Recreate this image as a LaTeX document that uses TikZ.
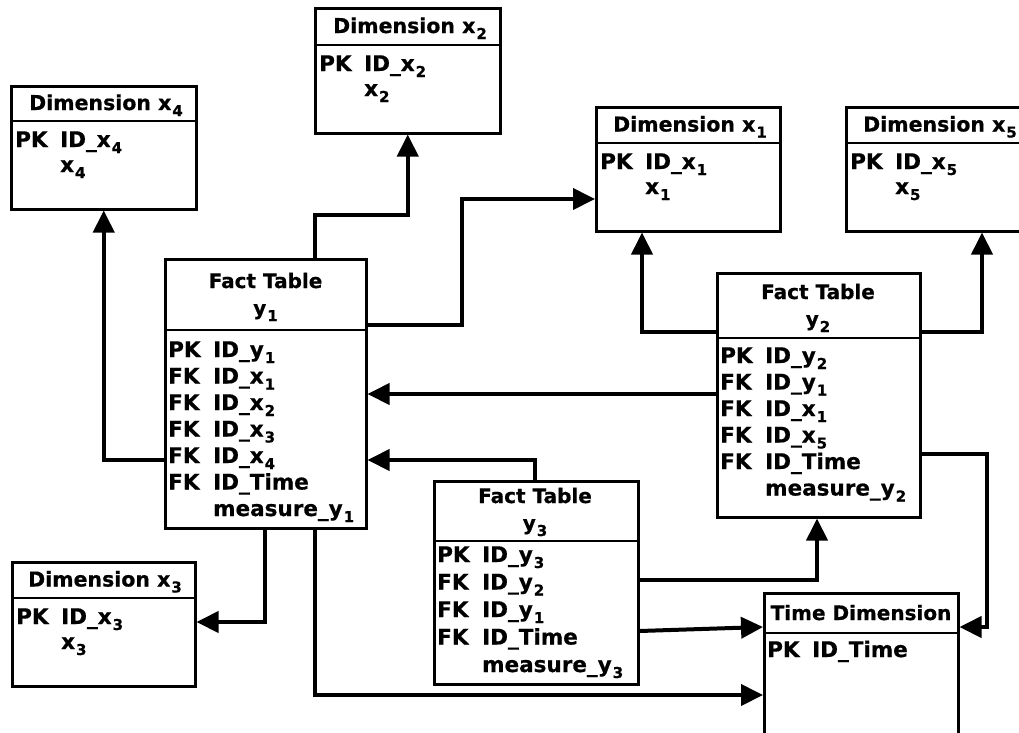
\documentclass[tikz,border=0pt]{standalone}
\usepackage{fontspec}
\setmainfont{DejaVu Sans}[BoldFeatures={FakeBold=0.6}]
\usetikzlibrary{arrows.meta}
\newcommand\sbs[1]{\kern1pt\raisebox{-6pt}{\fontsize{15}{15}\selectfont #1}}
\newcommand\rowsA[1]{\begin{tabular}[t]{@{}p{45pt}@{}l@{}}#1\end{tabular}}
\begin{document}
\begin{tikzpicture}[x=1pt,y=-1pt,
  box/.style={draw,line width=2.5pt,inner sep=0pt,anchor=north west},
  hline/.style={line width=1.1pt},
  conn/.style={line width=4pt,-{Triangle[length=22pt,width=21pt]}},
  dimhead/.style={inner sep=0pt,anchor=base,font=\bfseries\fontsize{20.5}{22}\selectfont},
  facthead/.style={inner sep=0pt,anchor=base,font=\bfseries\fontsize{20}{27}\selectfont},
  dimbody/.style={inner sep=0pt,anchor=base west,font=\bfseries\fontsize{21.5}{25}\selectfont},
  factbody/.style={inner sep=0pt,anchor=base west,font=\bfseries\fontsize{21.5}{26.5}\selectfont},
]
\clip (0,0) rectangle (1019,732);
\fill[white] (0,0) rectangle (1019,732);

% ---------- boxes ----------
\node[box,minimum width=185pt,minimum height=123pt] (d4) at (10,85) {};
\node[box,minimum width=185pt,minimum height=125pt] (d2) at (314,7) {};
\node[box,minimum width=184pt,minimum height=124pt] (d1) at (595,106) {};
\node[box,minimum width=184pt,minimum height=124pt] (d5) at (845,106) {};
\node[box,minimum width=183pt,minimum height=124pt] (d3) at (11,561) {};
\node[box,minimum width=201pt,minimum height=269pt] (y1) at (164,258) {};
\node[box,minimum width=203pt,minimum height=244pt] (y2) at (716,272) {};
\node[box,minimum width=204pt,minimum height=203pt] (y3) at (433,480) {};
\node[box,minimum width=194pt,minimum height=170pt] (t) at (763,592) {};

% ---------- header dividers ----------
\draw[hline] (d4.west |- 0,121) -- (d4.east |- 0,121);
\draw[hline] (d2.west |- 0,45) -- (d2.east |- 0,45);
\draw[hline] (d1.west |- 0,143) -- (d1.east |- 0,143);
\draw[hline] (d5.west |- 0,143) -- (d5.east |- 0,143);
\draw[hline] (d3.west |- 0,598) -- (d3.east |- 0,598);
\draw[hline] (y1.west |- 0,330) -- (y1.east |- 0,330);
\draw[hline] (y2.west |- 0,338) -- (y2.east |- 0,338);
\draw[hline] (y3.west |- 0,541) -- (y3.east |- 0,541);
\draw[hline] (t.west |- 0,633) -- (t.east |- 0,633);

% ---------- headers ----------
\node[dimhead] (d4h) at (106,110) {Dimension x\sbs{4}};
\node[dimhead] (d2h) at (410,33) {Dimension x\sbs{2}};
\node[dimhead] (d1h) at (690,131.5) {Dimension x\sbs{1}};
\node[dimhead] (d5h) at (940,131.5) {Dimension x\sbs{5}};
\node[dimhead] (d3h) at (105,586.5) {Dimension x\sbs{3}};
\node[facthead] (y1h) at (265.5,288) {\begin{tabular}[t]{@{}c@{}}Fact Table\\y\sbs{1}\end{tabular}};
\node[facthead] (y2h) at (818,299) {\begin{tabular}[t]{@{}c@{}}Fact Table\\y\sbs{2}\end{tabular}};
\node[facthead] (y3h) at (535,503) {\begin{tabular}[t]{@{}c@{}}Fact Table\\y\sbs{3}\end{tabular}};
\node[facthead] (th) at (861,620) {Time Dimension};

% ---------- bodies ----------
\node[dimbody] (d4b) at (15,147) {\rowsA{PK & ID\_x\sbs{4}\\ & x\sbs{4}}};
\node[dimbody] (d2b) at (319,71) {\rowsA{PK & ID\_x\sbs{2}\\ & x\sbs{2}}};
\node[dimbody] (d1b) at (600,169) {\rowsA{PK & ID\_x\sbs{1}\\ & x\sbs{1}}};
\node[dimbody] (d5b) at (850,169) {\rowsA{PK & ID\_x\sbs{5}\\ & x\sbs{5}}};
\node[dimbody] (d3b) at (16,624) {\rowsA{PK & ID\_x\sbs{3}\\ & x\sbs{3}}};
\node[factbody] (y1b) at (168,357) {\rowsA{PK & ID\_y\sbs{1}\\ FK & ID\_x\sbs{1}\\ FK & ID\_x\sbs{2}\\ FK & ID\_x\sbs{3}\\ FK & ID\_x\sbs{4}\\ FK & ID\_Time\\ & measure\_y\sbs{1}}};
\node[factbody] (y2b) at (720,363) {\rowsA{PK & ID\_y\sbs{2}\\ FK & ID\_y\sbs{1}\\ FK & ID\_x\sbs{1}\\ FK & ID\_x\sbs{5}\\ FK & ID\_Time\\ & measure\_y\sbs{2}}};
\node[factbody,font=\bfseries\fontsize{21.5}{27.5}\selectfont] (y3b) at (437,562) {\rowsA{PK & ID\_y\sbs{3}\\ FK & ID\_y\sbs{2}\\ FK & ID\_y\sbs{1}\\ FK & ID\_Time\\ & measure\_y\sbs{3}}};
\node[factbody] (tb) at (767,657) {\rowsA{PK & ID\_Time}};

% ---------- connectors ----------
\draw[conn] (y1.west |- 0,460) -| (d4.south);
\draw[conn] (315,0 |- y1.north) -- (315,215) -| (d2.south);
\draw[conn] (y1.east |- 0,325) -| (462,199) -- (d1.west |- 0,199);
\draw[conn] (265,0 |- y1.south) |- (d3.east |- 0,622);
\draw[conn] (315,0 |- y1.south) |- (t.west |- 0,695);
\draw[conn] (y2.west |- 0,394) -- (y1.east |- 0,394);
\draw[conn] (535,0 |- y3.north) |- (y1.east |- 0,460);
\draw[conn] (y3.east |- 0,580) -| (817,0 |- y2.south);
\draw[conn] (y3.east |- 0,631) -- (t.west |- 0,627);
\draw[conn] (y2.west |- 0,332) -| (642,0 |- d1.south);
\draw[conn] (y2.east |- 0,332) -| (982,0 |- d5.south);
\draw[conn] (y2.east |- 0,454) -- (987,454) |- (t.east |- 0,627);
\end{tikzpicture}
\end{document}
